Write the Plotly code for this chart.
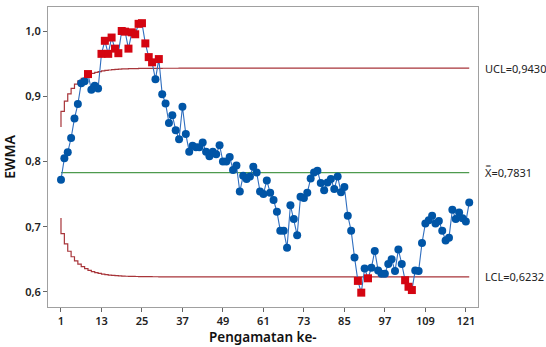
import numpy as np
import plotly.graph_objects as go

# EWMA statistic per observation
ewma = [
    0.772, 0.805, 0.814, 0.836, 0.866, 0.888, 0.920, 0.923, 0.934, 0.910,
    0.916, 0.912, 0.965, 0.985, 0.965, 0.990, 0.973, 0.966, 1.000, 0.999,
    0.973, 0.998, 0.995, 1.011, 1.012, 0.981, 0.960, 0.952, 0.926, 0.957,
    0.903, 0.889, 0.859, 0.871, 0.848, 0.834, 0.884, 0.842, 0.815, 0.824,
    0.822, 0.822, 0.829, 0.815, 0.808, 0.815, 0.811, 0.825, 0.800, 0.800,
    0.807, 0.787, 0.794, 0.754, 0.778, 0.773, 0.777, 0.792, 0.783, 0.754,
    0.750, 0.771, 0.752, 0.741, 0.723, 0.694, 0.694, 0.668, 0.733, 0.712,
    0.687, 0.746, 0.744, 0.752, 0.774, 0.783, 0.786, 0.767, 0.756, 0.768,
    0.773, 0.758, 0.777, 0.753, 0.761, 0.717, 0.694, 0.653, 0.617, 0.599,
    0.636, 0.621, 0.637, 0.663, 0.633, 0.628, 0.628, 0.643, 0.650, 0.632,
    0.665, 0.643, 0.618, 0.608, 0.603, 0.633, 0.632, 0.675, 0.705, 0.710,
    0.717, 0.705, 0.709, 0.694, 0.679, 0.683, 0.726, 0.712, 0.722, 0.713,
    0.708, 0.737,
]
center = 0.7831
ucl_final = 0.9430
lcl_final = 0.6232
lam = 0.1
x_ticks = [1, 13, 25, 37, 49, 61, 73, 85, 97, 109, 121]
y_ticks = [0.6, 0.7, 0.8, 0.9, 1.0]

n = len(ewma)
obs = np.arange(1, n + 1)

# time-varying EWMA limits converge to the steady-state limits
half = ucl_final - center
factor = np.sqrt(1 - (1 - lam) ** (2 * obs))
ucl = center + half * factor
lcl = center - (center - lcl_final) * factor

vals = np.array(ewma)
out = (vals > ucl) | (vals < lcl)
colors = np.where(out, "#D40511", "#0055A6")
symbols = np.where(out, "square", "circle")

fig = go.Figure()
fig.add_trace(go.Scatter(x=obs, y=ucl, mode="lines", line=dict(color="#A8353A", width=1.2, shape="vh"),
                         hoverinfo="skip"))
fig.add_trace(go.Scatter(x=obs, y=lcl, mode="lines", line=dict(color="#A8353A", width=1.2, shape="vh"),
                         hoverinfo="skip"))
fig.add_trace(go.Scatter(x=[obs[0], obs[-1]], y=[center, center], mode="lines",
                         line=dict(color="#4E9A4E", width=1.2), hoverinfo="skip"))
fig.add_trace(go.Scatter(x=obs, y=vals, mode="lines", line=dict(color="#2F6EBF", width=1.1)))
fig.add_trace(go.Scatter(x=obs, y=vals, mode="markers",
                         marker=dict(color=colors.tolist(), symbol=symbols.tolist(), size=8,
                                     line=dict(width=0))))

label_font = dict(family="Noto Sans", size=11, color="#222")
notes = [
    (ucl_final, "UCL=" + f"{ucl_final:.4f}".replace(".", ",")),
    (center, "X\u033F=" + f"{center:.4f}".replace(".", ",")),
    (lcl_final, "LCL=" + f"{lcl_final:.4f}".replace(".", ",")),
]
for yv, txt in notes:
    fig.add_annotation(x=1.0, xref="paper", y=yv, yref="y", text=txt, showarrow=False,
                       xanchor="left", xshift=5, font=label_font)

title_font = dict(family="Noto Sans", size=14, color="#111", weight=600)

# x-axis title placed below the tick labels
fig.add_annotation(x=0.5, xref="paper", y=0, yref="paper", text="Pengamatan ke-", showarrow=False,
                   xanchor="center", yanchor="top", yshift=-20, borderpad=0,
                   font=dict(family="Noto Sans", size=13.5, color="#111", weight=600))

axis_common = dict(showgrid=False, zeroline=False, showline=True, linecolor="#A0A0A0", linewidth=1,
                   mirror=True, ticks="outside", ticklen=4, tickcolor="#666", automargin=False,
                   tickfont=dict(family="Noto Sans", size=11, color="#222", weight=600))

fig.update_layout(
    width=546, height=347,
    margin=dict(l=48, r=68, t=7, b=40),
    plot_bgcolor="white", paper_bgcolor="white",
    showlegend=False,
    separators=",.",
    xaxis=dict(range=[-2.85, 124.6], tickvals=x_ticks, **axis_common),
    yaxis=dict(range=[0.577, 1.0368], tickvals=y_ticks, tickformat=".1f",
               title=dict(text="EWMA", font=title_font, standoff=8),
               **axis_common),
)

fig.write_html("out.html")
